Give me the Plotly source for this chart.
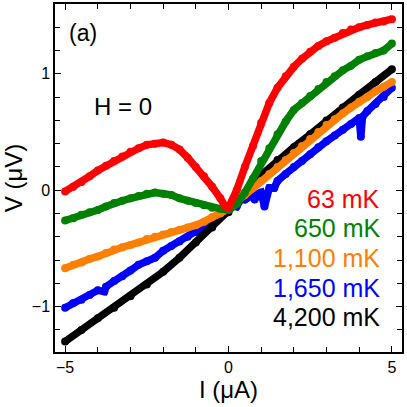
import plotly.graph_objects as go

# current (uA) and voltage (uV), one pair of lists per temperature
i_63 = [-5, -4.75, -4.5, -4.25, -4, -3.75, -3.5, -3.25, -3, -2.75, -2.5, -2.25, -2, -1.75, -1.5,
        -1.25, -1, -0.75, -0.5, -0.25, -0.1, 0, 0.25, 0.5, 0.75, 1, 1.25, 1.5, 1.75, 2, 2.25, 2.5,
        2.75, 3, 3.25, 3.5, 3.75, 4, 4.25, 4.5, 4.75, 5]
v_63 = [-0.01, 0.03, 0.07, 0.12, 0.17, 0.21, 0.25, 0.29, 0.33, 0.36, 0.39, 0.40, 0.41, 0.39, 0.35,
        0.28, 0.20, 0.12, 0.03, -0.07, -0.14, -0.15, 0.0, 0.20, 0.38, 0.58, 0.75, 0.88, 0.98, 1.06,
        1.13, 1.19, 1.24, 1.28, 1.31, 1.35, 1.38, 1.40, 1.42, 1.44, 1.45, 1.47]

i_650 = [-5, -4.75, -4.5, -4.25, -4, -3.75, -3.5, -3.25, -3, -2.75, -2.5, -2.25, -2, -1.75, -1.5,
         -1.25, -1, -0.75, -0.5, -0.25, 0, 0.25, 0.5, 0.75, 1, 1.25, 1.5, 1.75, 2, 2.25, 2.5, 2.75,
         3, 3.25, 3.5, 3.75, 4, 4.25, 4.5, 4.75, 5]
v_650 = [-0.26, -0.24, -0.21, -0.19, -0.17, -0.14, -0.11, -0.09, -0.07, -0.05, -0.03, -0.02, -0.03,
         -0.04, -0.07, -0.09, -0.11, -0.13, -0.15, -0.16, -0.17, -0.12, -0.02, 0.10, 0.25, 0.36,
         0.48, 0.59, 0.69, 0.75, 0.81, 0.87, 0.93, 0.98, 1.03, 1.07, 1.12, 1.15, 1.18, 1.20, 1.26]

i_1100 = [-5, -4.75, -4.5, -4.25, -4, -3.75, -3.5, -3.25, -3, -2.75, -2.5, -2.25, -2, -1.75, -1.5,
          -1.25, -1, -0.75, -0.5, -0.25, 0, 0.25, 0.5, 0.75, 1, 1.25, 1.5, 1.75, 2, 2.25, 2.5, 2.75,
          3, 3.25, 3.5, 3.75, 4, 4.25, 4.5, 4.75, 5]
v_1100 = [-0.67, -0.64, -0.62, -0.59, -0.57, -0.54, -0.51, -0.49, -0.47, -0.45, -0.42, -0.40, -0.38,
          -0.36, -0.34, -0.32, -0.30, -0.27, -0.23, -0.20, -0.16, -0.10, -0.04, 0.02, 0.08, 0.14,
          0.20, 0.26, 0.32, 0.38, 0.44, 0.50, 0.56, 0.61, 0.66, 0.71, 0.76, 0.80, 0.85, 0.89, 0.93]

i_1650 = [-5, -4.75, -4.5, -4.25, -4, -3.8, -3.75, -3.5, -3.25, -3, -2.75, -2.5, -2.25, -2, -1.75,
          -1.5, -1.25, -1, -0.75, -0.5, -0.25, 0, 0.1, 0.25, 0.4, 0.5, 0.75, 0.8, 0.9, 1, 1.1, 1.25,
          1.4, 1.5, 1.75, 2, 2.25, 2.5, 2.75, 3, 3.25, 3.5, 3.75, 4, 4.05, 4.1, 4.25, 4.5, 4.75, 5]
v_1650 = [-1.01, -0.97, -0.94, -0.90, -0.86, -0.87, -0.83, -0.78, -0.74, -0.69, -0.64, -0.61, -0.58,
          -0.52, -0.48, -0.44, -0.40, -0.36, -0.31, -0.26, -0.21, -0.16, -0.12, -0.14, -0.07, -0.08,
          -0.04, -0.08, -0.03, -0.02, -0.14, 0.02, 0.02, 0.08, 0.14, 0.20, 0.25, 0.31, 0.37, 0.42,
          0.47, 0.52, 0.57, 0.62, 0.46, 0.63, 0.68, 0.74, 0.80, 0.88]

i_4200 = [-5, -4.5, -4, -3.5, -3, -2.5, -2, -1.5, -1, -0.5, 0, 0.5, 1, 1.5, 2, 2.5, 3, 3.5, 4, 4.5, 5]
v_4200 = [-1.30, -1.20, -1.10, -1.01, -0.91, -0.81, -0.70, -0.58, -0.45, -0.32, -0.19, -0.04, 0.13,
          0.26, 0.37, 0.48, 0.60, 0.71, 0.82, 0.93, 1.04]

labels = ["63 mK", "650 mK", "1,100 mK", "1,650 mK", "4,200 mK"]
colors = ["#ff0000", "#008000", "#ff8000", "#0000ff", "#000000"]

FONT = "Liberation Sans, Arial, sans-serif"

fig = go.Figure()

# drawing order: blue at the back, red on top
series = [
    (i_1650, v_1650, 3),
    (i_4200, v_4200, 4),
    (i_1100, v_1100, 2),
    (i_650, v_650, 1),
    (i_63, v_63, 0),
]
for xs, ys, k in series:
    fig.add_trace(go.Scatter(
        x=xs, y=ys,
        mode="lines+markers",
        name=labels[k],
        line=dict(color=colors[k], width=7.5),
        marker=dict(color=colors[k], size=8),
        showlegend=False,
    ))

# temperature labels, right aligned, coloured like the curves
label_y = [199, 228.5, 258, 287.5, 317]
for k, py in enumerate(label_y):
    fig.add_annotation(
        x=(382 - 55) / 347, y=1 - (py - 4) / 348,
        xref="paper", yref="paper",
        xanchor="right", yanchor="middle",
        text=labels[k], showarrow=False,
        font=dict(family=FONT, size=25, color=colors[k]),
    )

fig.add_annotation(x=(83 - 55) / 347, y=1 - (33 - 4) / 348, xref="paper", yref="paper",
                   xanchor="center", yanchor="middle",
                   text="(a)", showarrow=False, font=dict(family=FONT, size=23, color="black"))
fig.add_annotation(x=(123 - 55) / 347, y=1 - (107 - 4) / 348, xref="paper", yref="paper",
                   xanchor="center", yanchor="middle",
                   text="H = 0", showarrow=False, font=dict(family=FONT, size=24, color="black"))

axis_common = dict(
    showline=True, linecolor="black", linewidth=1.5, mirror="ticks",
    ticks="inside", ticklen=6, tickwidth=1, tickcolor="black",
    showgrid=False, zeroline=False, automargin=False,
    tickfont=dict(family=FONT, size=16, color="black"),
)

fig.update_xaxes(
    range=[-5.31, 5.31], tickvals=[-5, 0, 5],
    minor=dict(ticks="inside", dtick=1, tick0=0, ticklen=5, tickcolor="black", showgrid=False),
    title=dict(text="I (μA)", font=dict(family=FONT, size=24, color="black"), standoff=6),
    **axis_common,
)
fig.update_yaxes(
    range=[-1.39, 1.60], tickvals=[-1, 0, 1],
    minor=dict(ticks="inside", dtick=0.2, tick0=0, ticklen=5, tickcolor="black", showgrid=False),
    title=dict(text="V (μV)", font=dict(family=FONT, size=24, color="black"), standoff=4),
    **axis_common,
)

fig.update_layout(
    width=407, height=407,
    margin=dict(l=55, r=5, t=4, b=55),
    plot_bgcolor="white", paper_bgcolor="white",
)

# drop the browser's default body margin so the figure sits at the window's corner
fig.write_html("out.html", config={"displayModeBar": False},
               post_script="document.body.style.margin='0';")
